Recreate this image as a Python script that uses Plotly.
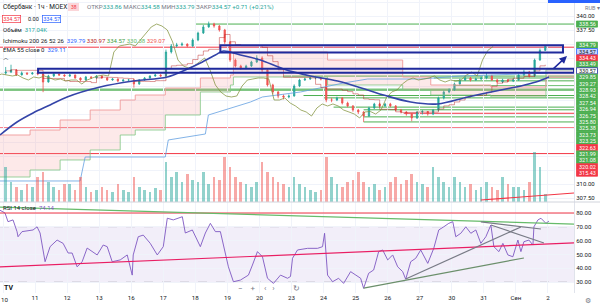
import plotly.graph_objects as go
import pandas as pd

# ---------------- data ----------------
day_labels = ["10", "11", "12", "13", "16", "17", "18", "19", "20",
              "23", "24", "25", "26", "27", "30", "31", "Сен", "2"]
HOURS_PER_DAY = 16      # x unit = one hourly bar
BARS_PER_DAY = 6        # candles aggregated to 6 per trading day

opens = [
    329.80, 330.00, 330.36, 329.46, 329.82, 329.64,
    329.82, 329.64, 328.21, 329.29, 329.64, 329.46,
    329.29, 329.46, 328.93, 328.57, 329.11, 328.93,
    329.29, 328.93, 328.57, 328.75, 328.39, 328.57,
    328.57, 327.86, 328.57, 328.93, 329.29, 329.46,
    329.29, 333.57, 334.64, 334.82, 335.00, 334.64,
    335.71, 336.96, 338.04, 338.57, 338.21, 337.50,
    335.36, 332.14, 331.07, 330.71, 331.07, 331.79,
    332.50, 330.36, 327.68, 326.43, 325.71, 325.54,
    325.71, 327.50, 328.57, 328.75, 328.93, 328.93,
    328.75, 325.00, 325.00, 325.36, 324.46, 323.93,
    323.21, 322.86, 322.14, 323.57, 324.29, 323.93,
    324.29, 323.93, 323.21, 322.86, 322.50, 321.79,
    322.86, 322.95, 322.50, 323.21, 325.36, 326.43,
    326.79, 327.86, 328.57, 328.93, 328.57, 328.75,
    328.93, 329.29, 328.57, 328.21, 328.57, 328.39,
    328.57, 329.46, 330.00, 329.29, 332.14, 333.86,
]
highs = [
    330.90, 331.30, 330.50, 330.10, 329.95, 330.00,
    330.20, 329.80, 329.50, 329.80, 329.75, 329.60,
    329.70, 329.55, 329.05, 329.30, 329.25, 329.45,
    329.40, 329.05, 328.90, 328.85, 328.70, 328.70,
    328.70, 328.70, 329.10, 329.40, 329.70, 329.60,
    334.00, 335.00, 335.20, 335.30, 335.10, 336.00,
    337.20, 338.40, 339.00, 338.80, 338.40, 337.70,
    335.50, 332.40, 331.30, 331.30, 332.00, 333.00,
    332.80, 330.50, 327.90, 326.60, 326.00, 326.00,
    327.80, 328.80, 329.00, 329.20, 329.30, 329.10,
    329.00, 325.40, 325.60, 325.50, 324.70, 324.10,
    323.40, 323.00, 323.80, 324.50, 324.50, 324.50,
    324.50, 324.10, 323.40, 323.00, 322.70, 323.00,
    323.20, 323.00, 323.40, 325.60, 326.70, 327.10,
    328.10, 328.80, 329.40, 329.10, 329.00, 329.20,
    329.80, 329.50, 328.80, 328.80, 328.70, 328.80,
    329.70, 330.40, 330.20, 332.40, 334.20, 334.58,
]
lows = [
    329.50, 329.80, 329.30, 329.40, 329.50, 329.55,
    329.40, 326.40, 328.10, 329.10, 329.30, 329.15,
    329.10, 328.80, 328.35, 328.45, 328.80, 328.85,
    328.80, 328.40, 328.45, 328.20, 328.30, 328.45,
    327.20, 327.70, 328.45, 328.80, 329.15, 329.15,
    329.10, 333.30, 334.40, 334.60, 334.40, 334.50,
    335.50, 336.80, 337.90, 337.90, 337.20, 335.00,
    331.80, 330.80, 330.40, 330.50, 330.90, 331.60,
    330.00, 327.40, 326.00, 325.30, 325.10, 325.30,
    325.60, 327.30, 328.40, 328.60, 328.70, 328.50,
    324.60, 324.60, 324.80, 324.20, 323.70, 322.90,
    322.50, 321.08, 322.00, 323.40, 323.70, 323.80,
    323.70, 323.00, 322.60, 322.20, 321.20, 321.60,
    322.40, 322.20, 322.30, 323.00, 325.10, 326.20,
    326.60, 327.60, 328.40, 328.30, 328.40, 328.60,
    328.70, 328.40, 328.00, 328.00, 328.20, 328.20,
    328.40, 329.30, 329.00, 329.10, 332.00, 333.79,
]
closes = [
    330.00, 330.36, 329.46, 329.82, 329.64, 329.82,
    329.64, 328.21, 329.29, 329.64, 329.46, 329.29,
    329.46, 328.93, 328.57, 329.11, 328.93, 329.29,
    328.93, 328.57, 328.75, 328.39, 328.57, 328.57,
    327.86, 328.57, 328.93, 329.29, 329.46, 329.29,
    333.57, 334.64, 334.82, 335.00, 334.64, 335.71,
    336.96, 338.04, 338.57, 338.21, 337.50, 335.36,
    332.14, 331.07, 330.71, 331.07, 331.79, 332.50,
    330.36, 327.68, 326.43, 325.71, 325.54, 325.71,
    327.50, 328.57, 328.75, 328.93, 328.93, 328.75,
    325.00, 325.00, 325.36, 324.46, 323.93, 323.21,
    322.86, 322.14, 323.57, 324.29, 323.93, 324.29,
    323.93, 323.21, 322.86, 322.50, 321.79, 322.86,
    322.95, 322.50, 323.21, 325.36, 326.43, 326.79,
    327.86, 328.57, 328.93, 328.57, 328.75, 328.93,
    329.29, 328.57, 328.21, 328.57, 328.39, 328.57,
    329.46, 330.00, 329.29, 332.14, 333.86, 334.57,
]
volumes_k = [
    1400, 800, 600, 480, 720, 600,
    1000, 1200, 800, 600, 480, 720,
    720, 480, 1000, 600, 400, 480,
    600, 480, 400, 720, 480, 400,
    1000, 600, 480, 400, 560, 480,
    1600, 1000, 1200, 800, 1120, 880,
    800, 1200, 720, 1000, 880, 1800,
    1400, 1000, 800, 720, 600, 800,
    1600, 1200, 1000, 800, 720, 600,
    1000, 720, 600, 480, 400, 480,
    1800, 1000, 720, 600, 800, 880,
    1200, 800, 600, 720, 480, 600,
    800, 1000, 720, 880, 1120, 800,
    720, 600, 1400, 1000, 800, 600,
    1000, 800, 600, 720, 480, 600,
    800, 600, 480, 1000, 720, 600,
    600, 480, 800, 2000, 1400, 317.04,
]

# EMA 55 (hour index, value)
ema_t = [-1.5, 7, 15, 23.5, 32, 48.5, 65, 82, 91, 98.5, 106, 110, 118.5, 128.5,
         140, 153.5, 167, 182, 190, 203.5, 217, 232, 248.5, 258.5, 266, 272.5]
ema_v = [318.75, 321.07, 322.68, 324.11, 325.54, 327.32, 328.39, 329.11, 330.36,
         331.61, 333.04, 333.75, 333.04, 332.14, 330.54, 329.29, 328.39, 326.79,
         325.89, 324.64, 324.29, 325.54, 326.79, 327.50, 328.20, 329.11]

# Ichimoku conversion line (period 200)
tenkan_t = [-1.5, 38.5, 41, 81, 82.5, 101, 102.5, 123.5, 129.5, 148.5, 170, 182,
            208.5, 228.5, 272]
tenkan_v = [310.54, 310.54, 314.82, 314.82, 317.86, 318.93, 322.32, 324.64, 325.54,
            326.43, 328.04, 328.75, 328.75, 329.29, 329.79]

# Ichimoku cloud (leading spans, already displaced)
span_t = [-1.5, 13.5, 28.5, 43.5, 58.5, 66, 81, 98.5, 113.5, 115, 162, 199.5,
          213.5, 243.5, 271, 286]
span_a = [311.25, 312.50, 314.29, 316.07, 318.75, 319.64, 322.32, 326.43, 327.68,
          329.11, 327.68, 326.79, 325.89, 325.54, 330.38, 330.38]
span_b = [318.75, 319.64, 321.43, 323.21, 325.00, 325.89, 327.14, 328.93, 329.46,
          333.57, 332.14, 329.11, 327.68, 327.32, 329.07, 329.07]

# RSI 14 (hour index, value)
rsi_t = [-1.5, 1, 2.5, 5, 7, 7.5, 9.5, 15, 17, 18.5, 21, 23.5, 27, 30, 32.5, 34.5,
         37, 39.5, 42, 44.5, 47, 50, 52, 54.5, 58.5, 62, 64.5, 65, 67.5, 70, 73.5,
         77, 80, 82, 85, 89.5, 91, 94.5, 98.5, 101, 103.5, 106, 108.5, 112.5, 115,
         118.5, 122.5, 124.5, 127, 129.5, 132, 135, 138.5, 142, 143.5, 144.5, 147,
         152, 157, 159.5, 160.5, 162, 164.5, 167.5, 170, 173.5, 176, 178.5, 180,
         182.5, 185, 187.5, 189.5, 192, 194.5, 197, 199.5, 201, 203.5, 206, 208.5,
         212, 215, 217.5, 220, 222.5, 224.5, 226, 228.5, 231, 233.5, 236, 238.5,
         241, 243.5, 245, 247.5, 249.5, 252, 254.5, 257, 258.5, 260, 262.5, 264.5,
         265, 267, 268.5, 271, 272.5]
rsi_v = [82, 80, 73.7, 75, 66.5, 62.8, 66.5, 67.7, 70, 65.5, 44.7, 55.6, 60.4, 58,
         51, 51, 41, 44.7, 54.6, 52, 49.6, 56.8, 55.6, 44.7, 46, 49.6, 35, 49.6,
         62.8, 64, 58, 49.6, 55.6, 76.2, 75, 77.3, 65.5, 67.7, 55.6, 65.5, 72.5,
         66.5, 66.5, 41, 30.2, 31.4, 35, 42.3, 52, 48.3, 32.7, 29, 35, 32.7, 34,
         47.2, 53.2, 54.4, 54.4, 55.6, 65.3, 35, 30.2, 32.7, 29, 37.5, 35, 32.7,
         25.4, 36.3, 38.7, 52, 53.2, 46, 49.6, 41, 37.5, 32, 44.7, 47.2, 53.2, 43.5,
         54.4, 67.7, 70, 72.5, 73.7, 62.8, 65.3, 70, 65.3, 67.7, 58, 62.8, 71.3,
         55.6, 52, 58, 49.6, 48.3, 60.4, 52, 59.2, 60.4, 56.8, 70, 75, 76.2, 72.5,
         74.14]

# horizontal levels drawn on the chart: price, kind, first hour
level_prices = [338.56, 334.43, 329.27, 328.93, 328.42, 327.54, 326.94, 326.75,
                325.80, 325.38, 323.73, 323.25, 322.63, 321.99, 321.08, 320.02, 315.43]
level_kinds = ["sup", "res", "sup", "sup", "sup", "sup", "sup", "sup",
               "sup", "sup", "sup", "sup", "res", "sup", "sup", "res", "res"]
level_start = [96, -1.5, 140, 215, 225, 225, -1.5, -1.5,
               150, 160, 165, 180, 200, 180, 180, -1.5, -1.5]

# price-scale labels (right axis)
axis_label_prices = [338.56, 334.79, 334.57, 334.43, 333.49, 330.57, 329.85, 329.27,
                     328.93, 328.42, 327.54, 326.94, 326.75, 325.80, 325.38, 323.73,
                     323.25, 322.63, 321.99, 321.08, 320.02, 315.43]
axis_label_kinds = ["sup", "sup", "last", "res", "sup", "box", "sup", "sup",
                    "sup", "sup", "sup", "sup", "sup", "sup", "sup", "sup",
                    "sup", "res", "sup", "sup", "res", "res"]

# rectangle zones: (t0, t1, p_low, p_high)
zones = [(108.5, 279.5, 333.49, 334.79), (17.5, 285.0, 329.85, 330.57)]

# RSI drawings: (t0, v0, t1, v1, colour)
rsi_lines = [(-1.5, 84.3, 285.0, 72.0, "#66bb6a"),
             (-1.5, 40.9, 285.0, 58.3, "#e91e63"),
             (180, 25.6, 260, 47.4, "#6b8f6b"),
             (201, 32.2, 258.5, 69.9, "#787b86"),
             (243.5, 71.3, 270, 58.3, "#787b86"),
             (238.5, 73.5, 268.5, 68.4, "#787b86")]
vol_trend = (238.5, 307.14, 285.0, 308.39)

# ---------------- geometry ----------------
W, H = 600, 306
PLOT_W, PLOT_H = 574, 293
MAIN_H = 202
MAIN_BOTTOM = (PLOT_H - MAIN_H) / PLOT_H
X_RANGE = [-1.5, 285.0]
PRICE_RANGE = [306.786, 342.857]
RSI_RANGE = [22.03, 87.97]
VOL_MAX = 8080

INC, DEC = "#26a69a", "#ef5350"
SUP, RES = "#4caf50", "#f23645"
FONT = "Roboto, Arial, sans-serif"

n = len(closes)
t = [HOURS_PER_DAY * (i // BARS_PER_DAY) + (i % BARS_PER_DAY + 0.5) * HOURS_PER_DAY / BARS_PER_DAY
     for i in range(n)]
day_ticks = [HOURS_PER_DAY * k for k in range(len(day_labels))]

df = pd.DataFrame({"h": highs, "l": lows})
kijun = (df.h.rolling(10, min_periods=1).max() + df.l.rolling(10, min_periods=1).min()) / 2

fig = go.Figure()

# cloud
fig.add_trace(go.Scatter(x=span_t, y=span_a, mode="lines", hoverinfo="skip",
                         line=dict(color="rgba(129,199,132,0.8)", width=1, shape="hv")))
fig.add_trace(go.Scatter(x=span_t, y=span_b, mode="lines", hoverinfo="skip",
                         line=dict(color="rgba(239,154,154,0.9)", width=1, shape="hv"),
                         fill="tonexty", fillcolor="rgba(244,143,143,0.2)"))
# conversion / base / lagging
fig.add_trace(go.Scatter(x=tenkan_t, y=tenkan_v, mode="lines", hoverinfo="skip",
                         line=dict(color="rgba(100,160,225,0.8)", width=1)))
fig.add_trace(go.Scatter(x=t, y=kijun, mode="lines", hoverinfo="skip",
                         line=dict(color="rgba(183,28,28,0.45)", width=1, shape="hv")))
fig.add_trace(go.Scatter(x=[v - 26 for v in t], y=closes, mode="lines", hoverinfo="skip",
                         line=dict(color="rgba(130,145,60,0.75)", width=1)))
# EMA
fig.add_trace(go.Scatter(x=ema_t, y=ema_v, mode="lines", hoverinfo="skip",
                         line=dict(color="#3444a8", width=1.6, shape="spline")))
# volume
vcol = ["rgba(38,166,154,0.5)" if c >= o else "rgba(239,83,80,0.5)" for o, c in zip(opens, closes)]
fig.add_trace(go.Bar(x=t, y=volumes_k, marker=dict(color=vcol, line=dict(width=0)),
                     width=1.3, yaxis="y3", hoverinfo="skip"))
# candles
fig.add_trace(go.Candlestick(x=t, open=opens, high=highs, low=lows, close=closes,
                             increasing=dict(line=dict(color=INC, width=0.8), fillcolor=INC),
                             decreasing=dict(line=dict(color=DEC, width=0.8), fillcolor=DEC),
                             whiskerwidth=0, hoverinfo="skip"))
# RSI
fig.add_trace(go.Scatter(x=rsi_t, y=rsi_v, mode="lines", xaxis="x2", yaxis="y2",
                         line=dict(color="#7e57c2", width=0.9), hoverinfo="skip"))

shapes = []
for p, k, s in zip(level_prices, level_kinds, level_start):
    shapes.append(dict(type="line", xref="x", yref="y", x0=s, x1=X_RANGE[1], y0=p, y1=p,
                       line=dict(color=SUP if k == "sup" else RES, width=1), layer="below"))
for t0, t1, p0, p1 in zones:
    shapes.append(dict(type="rect", xref="x", yref="y", x0=t0, x1=t1, y0=p0, y1=p1,
                       line=dict(color="#1f2a9c", width=2), fillcolor="rgba(41,98,255,0.05)",
                       layer="above"))
shapes.append(dict(type="line", xref="x", yref="y", x0=vol_trend[0], x1=vol_trend[2],
                   y0=vol_trend[1], y1=vol_trend[3], line=dict(color=RES, width=1.2)))
# RSI band and drawings
shapes.append(dict(type="rect", xref="paper", yref="y2", x0=0, x1=1, y0=30, y1=70,
                   fillcolor="rgba(126,87,194,0.1)", line=dict(width=0), layer="below"))
for lv in (30, 70):
    shapes.append(dict(type="line", xref="paper", yref="y2", x0=0, x1=1, y0=lv, y1=lv,
                       line=dict(color="rgba(120,123,134,0.35)", width=1, dash="dash"),
                       layer="below"))
shapes.append(dict(type="line", xref="paper", yref="y2", x0=0, x1=1, y0=80, y1=80,
                   line=dict(color=RES, width=1.2)))
for t0, v0, t1, v1, c in rsi_lines:
    shapes.append(dict(type="line", xref="x2", yref="y2", x0=t0, x1=t1, y0=v0, y1=v1,
                       line=dict(color=c, width=1.2)))
# pane separator & top-right element
shapes.append(dict(type="line", xref="paper", yref="paper", x0=0, x1=W / PLOT_W,
                   y0=MAIN_BOTTOM, y1=MAIN_BOTTOM, line=dict(color="#d1d4dc", width=1)))
shapes.append(dict(type="rect", xref="paper", yref="paper", x0=548 / PLOT_W, x1=W / PLOT_W,
                   y0=(PLOT_H - 3) / PLOT_H, y1=1.01, fillcolor="#2962ff", line=dict(width=0)))

annotations = []


def py_of_price(p):
    return (PRICE_RANGE[1] - p) / (PRICE_RANGE[1] - PRICE_RANGE[0]) * MAIN_H


def paper_y(py):
    return (PLOT_H - py) / PLOT_H


# right price-scale labels, stacked downward like the platform does
STEP = 6.4
prev = -1e9
for p, k in zip(axis_label_prices, axis_label_kinds):
    y = max(py_of_price(p), prev + STEP)
    prev = y
    if k == "sup":
        bg, bd, fc = SUP, SUP, "white"
    elif k == "res":
        bg, bd, fc = RES, RES, "white"
    elif k == "last":
        bg, bd, fc = "#c5d3ff", "#2962ff", "#131722"
    else:
        bg, bd, fc = "#ffffff", "#1f2a9c", "#131722"
    shapes.append(dict(type="rect", xref="paper", yref="paper",
                       x0=576.5 / PLOT_W, x1=597.5 / PLOT_W,
                       y0=paper_y(y + 3.05), y1=paper_y(y - 3.05),
                       fillcolor=bg, line=dict(color=bd, width=0.8)))
    annotations.append(dict(xref="paper", yref="paper", x=587 / PLOT_W, y=paper_y(y),
                            text=f"{p:.2f}", showarrow=False, xanchor="center", yanchor="middle",
                            font=dict(family=FONT, size=5.5, color=fc)))


def txt(x, y, s, size=6.5, color="#131722", anchor="left"):
    annotations.append(dict(xref="paper", yref="paper", x=x / PLOT_W, y=paper_y(y), text=s,
                            showarrow=False, xanchor=anchor, yanchor="middle",
                            font=dict(family=FONT, size=size, color=color)))


g = "#26a69a"
txt(1, 7, "Сбербанк · 1ч · MOEX", 6.5)
shapes.append(dict(type="rect", xref="paper", yref="paper", x0=68 / PLOT_W, x1=79 / PLOT_W,
                   y0=paper_y(11), y1=paper_y(3), fillcolor="#fbd6d9", line=dict(width=0)))
txt(73.5, 7, "38", 5, "#f23645", "center")
txt(85, 7, f"ОТКР<span style='color:{g}'>333.86</span> МАКС<span style='color:{g}'>334.58</span> "
           f"МИН<span style='color:{g}'>333.79</span> ЗАКР<span style='color:{g}'>334.57</span> "
           f"<span style='color:{g}'>+0.71 (+0.21%)</span>", 6.2, "#787b86")
annotations.append(dict(xref="paper", yref="paper", x=2 / PLOT_W, y=paper_y(18.5), text="334.57",
                        showarrow=False, font=dict(family=FONT, size=5.5, color="#f23645"),
                        bordercolor="#f23645", borderwidth=0.7, borderpad=0.5, bgcolor="white",
                        xanchor="left", yanchor="middle"))
txt(33, 18.5, "0.00", 5.5, "#131722", "center")
annotations.append(dict(xref="paper", yref="paper", x=42 / PLOT_W, y=paper_y(18.5), text="334.57",
                        showarrow=False, font=dict(family=FONT, size=5.5, color="#2962ff"),
                        bordercolor="#2962ff", borderwidth=0.7, borderpad=0.5, bgcolor="white",
                        xanchor="left", yanchor="middle"))
txt(1, 30, f"Объём  <span style='color:{g}'>317.04K</span>", 6)
txt(1, 40, "Ichimoku 200 26 52 26  <span style='color:#2962ff'>329.79</span> "
           "<span style='color:#b71c1c'>330.97</span> <span style='color:#43a047'>334.57</span> "
           "<span style='color:#66bb6a'>330.38</span> <span style='color:#ef5350'>329.07</span>", 6)
txt(1, 49, "EMA 55 close 0  <span style='color:#2962ff'>329.11</span>", 6)
txt(6, 58, "︿", 5.5, "#131722", "center")
txt(1, 207, "RSI 14 close  <span style='color:#7e57c2'>74.14</span>", 6)
txt(2, 288, "<b>TV</b>", 7, "#131722")
txt(236, 288, "−    +", 8, "#787b86")
txt(262, 288, "‹   ›", 8, "#787b86")
txt(291, 288, "↻", 7.5, "#787b86")
txt(583, 8, "RUB ▾", 5.5, "#787b86")
txt(588, 301, "⚙", 7, "#787b86", "center")
txt(4, 300, day_labels[0], 6.2, "#131722", "center")

# blue arrow drawing
annotations.append(dict(xref="paper", yref="paper", x=567 / PLOT_W, y=paper_y(56), ax=-15, ay=14,
                        text="", showarrow=True, arrowhead=2, arrowsize=1, arrowwidth=1.5,
                        arrowcolor="#1f2a9c"))

price_ticks = [307.5 + 2.5 * i for i in range(15)]
price_text = [f"{v:.2f}" if v in (340.0, 337.5, 310.0, 307.5) else "" for v in price_ticks]
rsi_ticks = [30, 40, 50, 60, 70, 80]
x_ticktext = [""] + day_labels[1:]

fig.update_layout(
    width=W, height=H, margin=dict(l=0, r=W - PLOT_W, t=0, b=H - PLOT_H),
    paper_bgcolor="white", plot_bgcolor="white", showlegend=False,
    font=dict(family=FONT, size=6.5, color="#131722"),
    boxgap=0.65,
    xaxis=dict(domain=[0, 1], range=X_RANGE, anchor="y", tickvals=day_ticks, showticklabels=False,
               showgrid=True, gridcolor="#f0f3fa", zeroline=False, ticks="",
               rangeslider=dict(visible=False)),
    xaxis2=dict(domain=[0, 1], range=X_RANGE, anchor="y2", tickvals=day_ticks, ticktext=x_ticktext,
                showgrid=True, gridcolor="#f0f3fa", zeroline=False, ticks="",
                tickfont=dict(size=6.2, color="#131722")),
    yaxis=dict(domain=[MAIN_BOTTOM, 1], range=PRICE_RANGE, side="right", anchor="x",
               tickvals=price_ticks, ticktext=price_text, showgrid=True, gridcolor="#f0f3fa",
               zeroline=False, ticks="", showline=True, linecolor="#e0e3eb",
               tickfont=dict(size=6, color="#131722")),
    yaxis3=dict(overlaying="y", range=[0, VOL_MAX], visible=False, anchor="x"),
    yaxis2=dict(domain=[0, MAIN_BOTTOM], range=RSI_RANGE, side="right", anchor="x2",
                tickvals=rsi_ticks, ticktext=[f"{v:.2f}" for v in rsi_ticks],
                showgrid=True, gridcolor="#f0f3fa", zeroline=False, ticks="", showline=True,
                linecolor="#e0e3eb", tickfont=dict(size=6, color="#131722")),
    shapes=shapes, annotations=annotations, bargap=0,
)

fig.write_html("out.html")
